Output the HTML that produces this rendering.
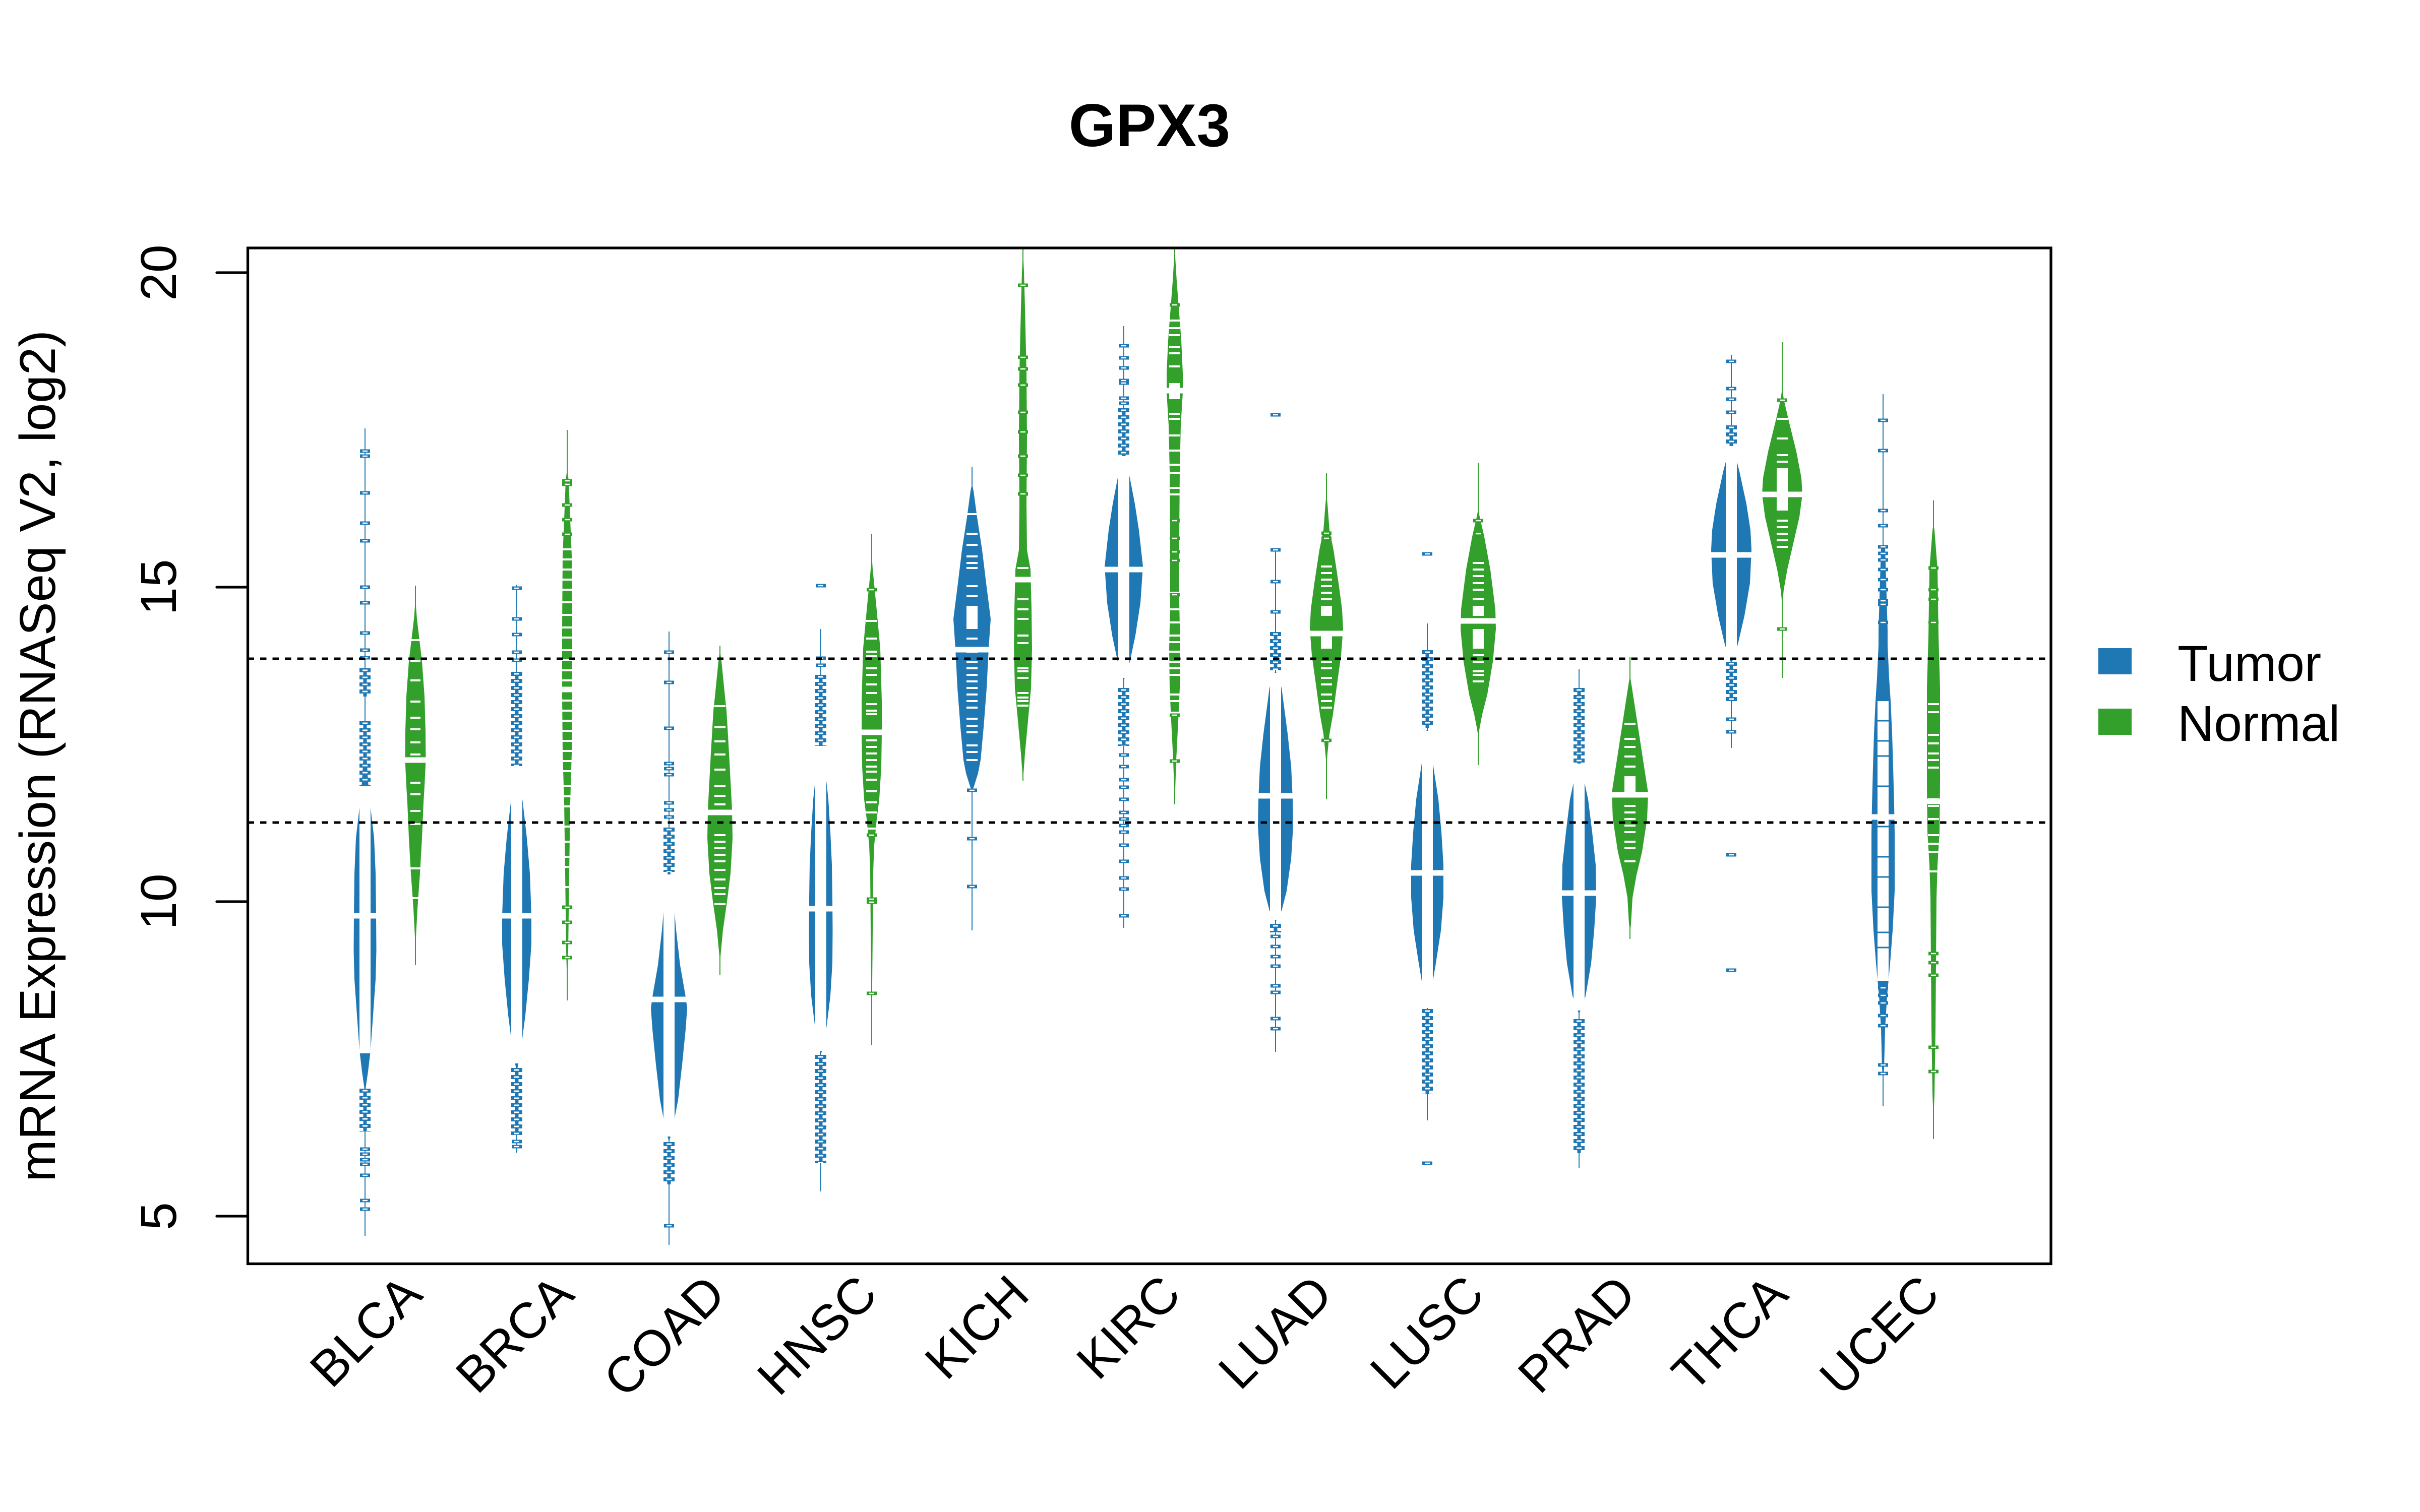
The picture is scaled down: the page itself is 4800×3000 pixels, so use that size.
<!DOCTYPE html>
<html><head><meta charset="utf-8"><style>
html,body{margin:0;padding:0;background:#fff;}
svg{display:block;}
text{font-family:"Liberation Sans",Arial,sans-serif;fill:#000;}
.fb{fill:#1F78B4}.fg{fill:#33A02C}
.sb{stroke:#1F78B4;stroke-width:2;fill:none}.sg{stroke:#33A02C;stroke-width:2;fill:none}
.ob{stroke:#1F78B4;stroke-width:7;fill:none}.og{stroke:#33A02C;stroke-width:7;fill:none}
.oi{stroke:#fff;stroke-width:2.5;fill:none}
.wl{stroke:#fff;stroke-width:4;fill:none}
.bl{stroke:#1F78B4;stroke-width:3;fill:none}
.md{stroke:#fff;stroke-width:11;fill:none}
.wf{fill:#fff}
.fs{stroke:#1F78B4;stroke-width:7;fill:none}
.fm{stroke:#1F78B4;stroke-width:22;stroke-dasharray:8 6;fill:none}
.fw{stroke:#fff;stroke-width:10;stroke-dasharray:3 11;stroke-dashoffset:-2.5;fill:none}
</style></head><body>
<svg width="4800" height="3000" viewBox="0 0 4800 3000" xmlns="http://www.w3.org/2000/svg">
<rect width="4800" height="3000" fill="#fff"/>
<defs><clipPath id="pc"><rect x="491.5" y="492" width="3576.5" height="2015.5"/></clipPath></defs>

<text x="2280" y="290" font-size="120" font-weight="bold" text-anchor="middle">GPX3</text>

<g clip-path="url(#pc)">
<!-- 1 BLCA T -->
<g transform="translate(724 0)">
<path class="sb" d="M0 850V2452"/>
<path id="a1" class="fb" d="M0 1466L3 1500L6 1550L10 1593L18 1663L21 1733L22 1817L22.5 1887L21 1943L16 2014L11 2084L6 2126L2 2154L0 2170Z"/><use href="#a1" transform="scale(-1 1)"/>
<path class="fs" d="M0 1326V1382M0 1431V1560M0 2160V2245"/>
<path class="fm" d="M0 1326V1382M0 1431V1560M0 2160V2245"/>
<path class="fw" d="M0 1326V1382M0 1431V1560M0 2160V2245"/>
<rect class="wf" x="-11" y="1560" width="22" height="530"/>
<path class="ob" d="M-10 895h20M-10 905h20M-10 978h20M-10 1038h20M-10 1073h20M-10 1165h20M-10 1196h20M-10 1256h20M-10 1290h20M-10 1305h20M-10 2280h20M-10 2290h20M-10 2301h20M-10 2310h20M-10 2332h20M-10 2382h20M-10 2399h20"/>
<path class="oi" d="M-5 895h10M-5 905h10M-5 978h10M-5 1038h10M-5 1073h10M-5 1165h10M-5 1196h10M-5 1256h10M-5 1290h10M-5 1305h10M-5 2280h10M-5 2290h10M-5 2301h10M-5 2310h10M-5 2332h10M-5 2382h10M-5 2399h10"/>
<path class="md" d="M-23 1817h46"/>
</g>
<!-- 2 BLCA N -->
<g transform="translate(824 0)">
<path class="sg" d="M0 1162V1915"/>
<path id="a2" class="fg" d="M0 1190L3 1228L8 1270L13 1312L18 1382L20 1450L20.5 1508L18 1560L16 1593L13 1663L9 1733L4 1803L1 1859L0 1880Z"/><use href="#a2" transform="scale(-1 1)"/>
<path class="wl" d="M-10 1270h20M-10 1312h20M-10 1350h20M-10 1392h20M-10 1424h20M-10 1447h20M-10 1473h20M-10 1497h20M-10 1553h20M-10 1576h20M-10 1609h20M-10 1635h20M-10 1723h20M-10 1782h20"/>
<path class="md" d="M-21 1508h42"/>
</g>
<!-- 3 BRCA T -->
<g transform="translate(1025 0)">
<path class="sb" d="M0 1160V2287"/>
<path id="a3" class="fb" d="M0 1500L3 1522L12 1593L20 1663L26 1733L29 1817L29 1873L24 1943L17 2014L8 2084L3 2112L0 2125Z"/><use href="#a3" transform="scale(-1 1)"/>
<path class="fs" d="M0 1333V1520M0 2119V2252"/>
<path class="fm" d="M0 1333V1520M0 2119V2252"/>
<path class="fw" d="M0 1333V1520M0 2119V2252"/>
<rect class="wf" x="-11" y="1520" width="22" height="590"/>
<path class="ob" d="M-10 1167h20M-10 1228h20M-10 1259h20M-10 1294h20M-10 1310h20M-10 2265h20M-10 2275h20"/>
<path class="oi" d="M-5 1167h10M-5 1228h10M-5 1259h10M-5 1294h10M-5 1310h10M-5 2265h10M-5 2275h10"/>
<path class="md" d="M-29 1817h58"/>
</g>
<!-- 4 BRCA N -->
<g transform="translate(1125 0)">
<path class="sg" d="M0 853V1985"/>
<path id="a4" class="fg" d="M0 930L3 954L6 1031L9 1102L10 1242L10 1382L9 1494L6 1593L4 1733L2 1887L0 1960Z"/><use href="#a4" transform="scale(-1 1)"/>
<path class="og" d="M-10 954h20M-10 961h20M-10 1002h20M-10 1031h20M-10 1060h20M-10 1800h20M-10 1830h20M-10 1870h20M-10 1900h20"/>
<path class="oi" d="M-5 954h10M-5 961h10M-5 1002h10M-5 1031h10M-5 1060h10M-5 1800h10M-5 1830h10M-5 1870h10M-5 1900h10"/>
<path class="wl" d="M-10 1090h20M-10 1110h20M-10 1130h20M-10 1150h20M-10 1170h20M-10 1195h20M-10 1220h20M-10 1245h20M-10 1265h20M-10 1290h20M-10 1310h20M-10 1330h20M-10 1350h20M-10 1390h20M-10 1410h20M-10 1430h20M-10 1450h20M-10 1470h20M-10 1490h20M-10 1510h20M-10 1530h20M-10 1560h20M-10 1580h20M-10 1600h20M-10 1640h20M-10 1670h20M-10 1700h20M-10 1720h20M-10 1760h20"/>
<path class="md" d="M-12 1368h24"/>
</g>
<!-- 5 COAD T -->
<g transform="translate(1327 0)">
<path class="sb" d="M0 1253V2470"/>
<path id="a5" class="fb" d="M0 1720L3 1733L8 1775L14 1845L22 1915L32 1972L36 2000L33 2042L26 2112L18 2182L10 2224L4 2252L0 2265Z"/><use href="#a5" transform="scale(-1 1)"/>
<path class="fs" d="M0 1642V1730M0 2266V2350"/>
<path class="fm" d="M0 1642V1730M0 2266V2350"/>
<path class="fw" d="M0 1642V1730M0 2266V2350"/>
<rect class="wf" x="-11" y="1735" width="22" height="520"/>
<path class="ob" d="M-10 1294h20M-10 1354h20M-10 1445h20M-10 1515h20M-10 1525h20M-10 1537h20M-10 1593h20M-10 1607h20M-10 1621h20M-10 2432h20"/>
<path class="oi" d="M-5 1294h10M-5 1354h10M-5 1445h10M-5 1515h10M-5 1525h10M-5 1537h10M-5 1593h10M-5 1607h10M-5 1621h10M-5 2432h10"/>
<path class="md" d="M-36 1983h72"/>
</g>
<!-- 6 COAD N -->
<g transform="translate(1428 0)">
<path class="sg" d="M0 1281V1934"/>
<path id="a6" class="fg" d="M0 1290L3 1312L10 1382L13 1410L18 1494L24 1607L25 1663L21 1733L14 1789L6 1845L2 1887L0 1910Z"/><use href="#a6" transform="scale(-1 1)"/>
<path class="wl" d="M-11 1401h22M-11 1443h22M-11 1471h22M-11 1497h22M-11 1527h22M-11 1560h22M-11 1579h22M-11 1596h22M-11 1657h22M-11 1670h22M-11 1683h22M-11 1696h22M-11 1709h22M-11 1726h22M-11 1745h22M-11 1762h22M-11 1774h22M-11 1794h22"/>
<path class="md" d="M-25 1612h50"/>
</g>
<!-- 7 HNSC T -->
<g transform="translate(1628 0)">
<path class="sb" d="M0 1248V2364"/>
<path id="a7" class="fb" d="M0 1475L2 1488L8 1521L15 1586L19 1651L22 1716L23 1781L23.5 1846L23 1911L19 1976L11 2041L4 2080L0 2092Z"/><use href="#a7" transform="scale(-1 1)"/>
<path class="fs" d="M0 1339V1480M0 2093V2308"/>
<path class="fm" d="M0 1339V1480M0 2093V2308"/>
<path class="fw" d="M0 1339V1480M0 2093V2308"/>
<rect class="wf" x="-11" y="1480" width="22" height="605"/>
<path class="ob" d="M-10 1162h20M-10 1306h20M-10 1320h20"/>
<path class="oi" d="M-5 1162h10M-5 1306h10M-5 1320h10"/>
<path class="md" d="M-23.5 1803h47"/>
</g>
<!-- 8 HNSC N -->
<g transform="translate(1729 0)">
<path class="sg" d="M0 1059V2074"/>
<path id="a8" class="fg" d="M0 1100L2 1130L6 1170L11 1222L17 1287L20 1391L20 1456L19 1521L15 1586L10 1625L5 1677L3 1729L2 1846L1 1950L0 2000Z"/><use href="#a8" transform="scale(-1 1)"/>
<path class="wl" d="M-11 1232h22M-11 1267h22M-11 1293h22M-11 1302h22M-11 1326h22M-11 1339h22M-11 1358h22M-11 1375h22M-11 1397h22M-11 1410h22M-11 1417h22M-11 1469h22M-11 1482h22M-11 1495h22M-11 1508h22M-11 1521h22M-11 1531h22M-11 1547h22M-11 1570h22M-11 1592h22M-11 1612h22M-11 1644h22"/>
<path class="og" d="M-10 1170h20M-10 1657h20M-10 1784h20M-10 1790h20M-10 1971h20"/>
<path class="oi" d="M-5 1170h10M-5 1657h10M-5 1784h10M-5 1790h10M-5 1971h10"/>
<path class="md" d="M-20 1453h40"/>
</g>
<!-- 9 KICH T -->
<g transform="translate(1928 0)">
<path class="sb" d="M0 926V1846"/>
<path id="a9" class="fb" d="M0 960L3 974L10 1026L20 1091L28 1157L37 1228L33 1287L29 1365L23 1443L17 1508L12 1534L4 1560L0 1570Z"/><use href="#a9" transform="scale(-1 1)"/>
<path class="wl" d="M-11 1020h22M-11 1059h22M-11 1081h22M-11 1104h22M-11 1117h22M-11 1127h22M-11 1163h22M-11 1183h22M-11 1267h22M-11 1293h22M-11 1313h22M-11 1326h22M-11 1339h22M-11 1352h22M-11 1365h22M-11 1378h22M-11 1391h22M-11 1404h22M-11 1426h22M-11 1440h22M-11 1453h22M-11 1479h22M-11 1492h22M-11 1508h22"/>
<rect class="wf" x="-11" y="1202" width="22" height="46"/>
<path class="ob" d="M-10 1568h20M-10 1664h20M-10 1759h20"/>
<path class="oi" d="M-5 1568h10M-5 1664h10M-5 1759h10"/>
<path class="md" d="M-33 1289h66"/>
</g>
<!-- 10 KICH N -->
<g transform="translate(2029 0)">
<path class="sg" d="M0 493V1549"/>
<path id="a10" class="fg" d="M0 495L2 540L4 610L7 740L8 870L7 1000L8 1091L15 1130L17 1209L18 1287L16 1365L10 1430L4 1495L0 1549Z"/><use href="#a10" transform="scale(-1 1)"/>
<path class="og" d="M-10 566h20M-10 709h20M-10 732h20M-10 764h20M-10 818h20M-10 857h20M-10 905h20M-10 943h20M-10 980h20"/>
<path class="oi" d="M-5 566h10M-5 709h10M-5 732h10M-5 764h10M-5 818h10M-5 857h10M-5 905h10M-5 943h10M-5 980h10"/>
<path class="wl" d="M-11 1127h22M-11 1189h22M-11 1209h22M-11 1228h22M-11 1261h22M-11 1276h22M-11 1326h22M-11 1332h22M-11 1345h22M-11 1375h22M-11 1384h22M-11 1391h22M-11 1400h22"/>
<path class="md" d="M-17 1150h34"/>
</g>
<!-- 11 KIRC T -->
<g transform="translate(2229 0)">
<path class="sb" d="M0 647V1841"/>
<path id="a11" class="fb" d="M0 895L3 909L12 948L22 1000L30 1052L38 1124L33 1196L23 1261L12 1313L4 1339L0 1350Z"/><use href="#a11" transform="scale(-1 1)"/>
<path class="fs" d="M0 810V909M0 1365V1480"/>
<path class="fm" d="M0 810V909M0 1365V1480"/>
<path class="fw" d="M0 810V909M0 1365V1480"/>
<rect class="wf" x="-11" y="905" width="22" height="440"/>
<path class="ob" d="M-10 686h20M-10 710h20M-10 730h20M-10 755h20M-10 760h20M-10 790h20M-10 800h20M-10 1498h20M-10 1521h20M-10 1547h20M-10 1562h20M-10 1586h20M-10 1612h20M-10 1625h20M-10 1638h20M-10 1651h20M-10 1677h20M-10 1709h20M-10 1742h20M-10 1764h20M-10 1817h20"/>
<path class="oi" d="M-5 686h10M-5 710h10M-5 730h10M-5 755h10M-5 760h10M-5 790h10M-5 800h10M-5 1498h10M-5 1521h10M-5 1547h10M-5 1562h10M-5 1586h10M-5 1612h10M-5 1625h10M-5 1638h10M-5 1651h10M-5 1677h10M-5 1709h10M-5 1742h10M-5 1764h10M-5 1817h10"/>
<path class="md" d="M-38 1130h76"/>
</g>
<!-- 12 KIRC N -->
<g transform="translate(2330 0)">
<path class="sg" d="M0 494V1596"/>
<path id="a12" class="fg" d="M0 494L4 558L8 610L13 675L16 740L16 779L12 844L10 935L9 1065L9 1196L11 1287L10 1365L7 1430L3 1508L0 1596Z"/><use href="#a12" transform="scale(-1 1)"/>
<path class="wl" d="M-11 636h22M-11 651h22M-11 665h22M-11 688h22M-11 701h22M-11 727h22M-11 821h22M-11 831h22M-11 864h22M-11 894h22M-11 922h22M-11 938h22M-11 968h22M-11 981h22M-11 1176h22M-11 1209h22M-11 1235h22M-11 1261h22M-11 1274h22M-11 1293h22M-11 1313h22M-11 1326h22M-11 1339h22M-11 1378h22M-11 1391h22M-11 1414h22"/>
<rect class="wf" x="-11" y="760" width="22" height="32"/>
<path class="og" d="M-10 605h20M-10 1033h20M-10 1068h20M-10 1095h20M-10 1112h20M-10 1180h20M-10 1419h20M-10 1510h20"/>
<path class="oi" d="M-5 605h10M-5 1033h10M-5 1068h10M-5 1095h10M-5 1112h10M-5 1180h10M-5 1419h10M-5 1510h10"/>
<path class="md" d="M-16 775h32"/>
</g>
<!-- 13 LUAD T -->
<g transform="translate(2530 0)">
<path class="sb" d="M0 1091V2087"/>
<path id="a13" class="fb" d="M0 1330L3 1339L12 1365L24 1456L31 1521L34 1586L35 1638L31 1703L22 1768L12 1807L4 1820L0 1830Z"/><use href="#a13" transform="scale(-1 1)"/>
<path class="fs" d="M0 1254V1330M0 1833V1850"/>
<path class="fm" d="M0 1254V1330M0 1833V1850"/>
<path class="fw" d="M0 1254V1330M0 1833V1850"/>
<rect class="wf" x="-11" y="1335" width="22" height="490"/>
<path class="ob" d="M-10 823h20M-10 1091h20M-10 1154h20M-10 1214h20M-10 1858h20M-10 1878h20M-10 1898h20M-10 1917h20M-10 1956h20M-10 1969h20M-10 2021h20M-10 2041h20"/>
<path class="oi" d="M-5 823h10M-5 1091h10M-5 1154h10M-5 1214h10M-5 1858h10M-5 1878h10M-5 1898h10M-5 1917h10M-5 1956h10M-5 1969h10M-5 2021h10M-5 2041h10"/>
<path class="md" d="M-35 1579h70"/>
</g>
<!-- 14 LUAD N -->
<g transform="translate(2631 0)">
<path class="sg" d="M0 939V1586"/>
<path id="a14" class="fg" d="M0 980L2 1000L6 1052L14 1091L24 1157L31 1209L33 1248L29 1300L20 1365L13 1417L6 1456L2 1495L0 1520Z"/><use href="#a14" transform="scale(-1 1)"/>
<path class="wl" d="M-11 1124h22M-11 1137h22M-11 1150h22M-11 1163h22M-11 1176h22M-11 1189h22M-11 1313h22M-11 1326h22M-11 1345h22M-11 1358h22M-11 1378h22M-11 1391h22M-11 1404h22"/>
<rect class="wf" x="-11" y="1202" width="22" height="20"/>
<rect class="wf" x="-11" y="1261" width="22" height="26"/>
<path class="og" d="M-10 1058h20M-10 1068h20M-10 1469h20"/>
<path class="oi" d="M-5 1058h10M-5 1068h10M-5 1469h10"/>
<path class="md" d="M-33 1257h66"/>
</g>
<!-- 15 LUSC T -->
<g transform="translate(2831 0)">
<path class="sb" d="M0 1237V2223"/>
<path id="a15" class="fb" d="M0 1445L4 1456L10 1508L22 1586L28 1651L32 1716L32 1781L27 1846L17 1911L6 1976L2 1996L0 2005Z"/><use href="#a15" transform="scale(-1 1)"/>
<path class="fs" d="M0 1290V1445M0 2002V2171"/>
<path class="fm" d="M0 1290V1445M0 2002V2171"/>
<path class="fw" d="M0 1290V1445M0 2002V2171"/>
<rect class="wf" x="-11" y="1450" width="22" height="550"/>
<path class="ob" d="M-10 1099h20M-10 2308h20"/>
<path class="oi" d="M-5 1099h10M-5 2308h10"/>
<path class="md" d="M-32 1732h64"/>
</g>
<!-- 16 LUSC N -->
<g transform="translate(2932 0)">
<path class="sg" d="M0 918V1518"/>
<path id="a16" class="fg" d="M0 1010L3 1026L12 1065L24 1130L34 1209L35 1248L29 1313L18 1378L8 1417L3 1443L0 1460Z"/><use href="#a16" transform="scale(-1 1)"/>
<path class="wl" d="M-11 1117h22M-11 1130h22M-11 1143h22M-11 1157h22M-11 1170h22M-11 1189h22M-11 1300h22M-11 1313h22M-11 1332h22M-11 1339h22M-11 1352h22"/>
<rect class="wf" x="-11" y="1202" width="22" height="20"/>
<rect class="wf" x="-11" y="1248" width="22" height="39"/>
<path class="og" d="M-10 1033h20M-10 1059h20"/>
<path class="oi" d="M-5 1033h10M-5 1059h10"/>
<path class="md" d="M-35 1232h70"/>
</g>
<!-- 17 PRAD T -->
<g transform="translate(3132 0)">
<path class="sb" d="M0 1328V2317"/>
<path id="a17" class="fb" d="M0 1510L4 1521L18 1586L26 1651L33 1716L34 1781L30 1846L24 1911L13 1976L4 2002L0 2012Z"/><use href="#a17" transform="scale(-1 1)"/>
<path class="fs" d="M0 1365V1515M0 2022V2288"/>
<path class="fm" d="M0 1365V1515M0 2022V2288"/>
<path class="fw" d="M0 1365V1515M0 2022V2288"/>
<rect class="wf" x="-11" y="1515" width="22" height="490"/>
<path class="md" d="M-34 1772h68"/>
</g>
<!-- 18 PRAD N -->
<g transform="translate(3233 0)">
<path class="sg" d="M0 1304V1863"/>
<path id="a18" class="fg" d="M0 1340L4 1365L12 1417L24 1495L36 1573L34 1625L24 1690L13 1736L5 1781L2 1833L0 1850Z"/><use href="#a18" transform="scale(-1 1)"/>
<path class="wl" d="M-11 1436h22M-11 1466h22M-11 1482h22M-11 1501h22M-11 1521h22M-11 1599h22M-11 1612h22M-11 1625h22M-11 1638h22M-11 1651h22M-11 1670h22M-11 1683h22M-11 1709h22"/>
<rect class="wf" x="-11" y="1540" width="22" height="39"/>
<path class="md" d="M-36 1577h72"/>
</g>
<!-- 19 THCA T -->
<g transform="translate(3434 0)">
<path class="sb" d="M0 704V1484"/>
<path id="a19" class="fb" d="M0 880L4 890L16 935L30 1000L38 1052L40 1091L37 1157L26 1222L14 1274L5 1306L0 1315Z"/><use href="#a19" transform="scale(-1 1)"/>
<path class="fs" d="M0 844V890M0 1313V1391"/>
<path class="fm" d="M0 844V890M0 1313V1391"/>
<path class="fw" d="M0 844V890M0 1313V1391"/>
<rect class="wf" x="-11" y="885" width="22" height="425"/>
<path class="ob" d="M-10 717h20M-10 771h20M-10 792h20M-10 818h20M-10 1427h20M-10 1452h20M-10 1696h20M-10 1925h20"/>
<path class="oi" d="M-5 717h10M-5 771h10M-5 792h10M-5 818h10M-5 1427h10M-5 1452h10M-5 1696h10M-5 1925h10"/>
<path class="md" d="M-40 1101h80"/>
</g>
<!-- 20 THCA N -->
<g transform="translate(3535 0)">
<path class="sg" d="M0 679V1345"/>
<path id="a20" class="fg" d="M0 770L3 792L12 831L28 896L38 948L40 981L34 1026L22 1078L10 1130L3 1170L0 1200Z"/><use href="#a20" transform="scale(-1 1)"/>
<path class="wl" d="M-11 831h22M-11 870h22M-11 903h22M-11 916h22M-11 1033h22M-11 1046h22M-11 1059h22M-11 1072h22M-11 1085h22"/>
<rect class="wf" x="-11" y="929" width="22" height="84"/>
<path class="og" d="M-10 794h20M-10 1248h20"/>
<path class="oi" d="M-5 794h10M-5 1248h10"/>
<path class="md" d="M-40 981h80"/>
</g>
<!-- 21 UCEC T -->
<g transform="translate(3735 0)">
<path class="sb" d="M0 782V2195"/>
<path id="a21" class="fb" d="M0 1080L4 1085L6 1150L9 1250L9 1280L12 1345L15 1391L18 1456L20 1521L22 1599L23 1651L23 1768L19 1846L14 1911L8 1976L4 2041L2 2119L0 2150Z"/><use href="#a21" transform="scale(-1 1)"/>
<rect class="wf" x="-11" y="1391" width="22" height="555"/>
<path class="bl" d="M-11 1430h22M-11 1470h22M-11 1500h22M-11 1560h22M-11 1640h22M-11 1700h22M-11 1740h22M-11 1800h22M-11 1850h22M-11 1880h22"/>
<path class="ob" d="M-10 834h20M-10 894h20M-10 1013h20M-10 1043h20M-10 1085h20M-10 1098h20M-10 1111h20M-10 1130h20M-10 1150h20M-10 1170h20M-10 1192h20M-10 1199h20M-10 1235h20M-10 1960h20M-10 1975h20M-10 1990h20M-10 2015h20M-10 2035h20M-10 2113h20M-10 2130h20"/>
<path class="oi" d="M-5 834h10M-5 894h10M-5 1013h10M-5 1043h10M-5 1085h10M-5 1098h10M-5 1111h10M-5 1130h10M-5 1150h10M-5 1170h10M-5 1192h10M-5 1199h10M-5 1235h10M-5 1960h10M-5 1975h10M-5 1990h10M-5 2015h10M-5 2035h10M-5 2113h10M-5 2130h10"/>
<path class="md" d="M-23 1621h46"/>
</g>
<!-- 22 UCEC N -->
<g transform="translate(3835 0)">
<path class="sg" d="M0 993V2260"/>
<path id="a22" class="fg" d="M0 1040L2 1052L8 1130L10 1261L13 1365L13 1456L13 1560L12 1651L8 1716L6 1781L5 1911L4 2041L2 2171L0 2220Z"/><use href="#a22" transform="scale(-1 1)"/>
<path class="wl" d="M-11 1397h22M-11 1413h22M-11 1458h22M-11 1475h22M-11 1495h22M-11 1508h22M-11 1523h22M-11 1586h22M-11 1599h22M-11 1625h22M-11 1657h22M-11 1674h22M-11 1690h22M-11 1729h22"/>
<path class="og" d="M-10 1127h20M-10 1170h20M-10 1189h20M-10 1235h20M-10 1892h20M-10 1910h20M-10 1935h20M-10 2078h20M-10 2126h20"/>
<path class="oi" d="M-5 1127h10M-5 1170h10M-5 1189h10M-5 1235h10M-5 1892h10M-5 1910h10M-5 1935h10M-5 2078h10M-5 2126h10"/>
<path class="md" d="M-13 1590h26"/>
</g>

<!-- dashed reference lines -->
<path d="M491.5 1307H4068M491.5 1632H4068" stroke="#000" stroke-width="5" stroke-dasharray="12.5 12" fill="none"/>
</g>

<!-- plot frame -->
<rect x="491.5" y="492" width="3576.5" height="2015.5" fill="none" stroke="#000" stroke-width="5.3"/>
<!-- y ticks -->
<path d="M430 541H491.5M430 1165H491.5M430 1789H491.5M430 2413H491.5" stroke="#000" stroke-width="5.3" stroke-linecap="round" fill="none"/>
<g font-size="100" text-anchor="middle">
<text transform="translate(349 541) rotate(-90)">20</text>
<text transform="translate(349 1165) rotate(-90)">15</text>
<text transform="translate(349 1789) rotate(-90)">10</text>
<text transform="translate(349 2413) rotate(-90)">5</text>
<text transform="translate(109 1500) rotate(-90)">mRNA Expression (RNASeq V2, log2)</text>
</g>

<!-- x labels -->
<g font-size="100" text-anchor="end">
<text transform="translate(842 2573) rotate(-45)">BLCA</text>
<text transform="translate(1143 2573) rotate(-45)">BRCA</text>
<text transform="translate(1444 2573) rotate(-45)">COAD</text>
<text transform="translate(1745 2573) rotate(-45)">HNSC</text>
<text transform="translate(2046 2573) rotate(-45)">KICH</text>
<text transform="translate(2347 2573) rotate(-45)">KIRC</text>
<text transform="translate(2648 2573) rotate(-45)">LUAD</text>
<text transform="translate(2949 2573) rotate(-45)">LUSC</text>
<text transform="translate(3250 2573) rotate(-45)">PRAD</text>
<text transform="translate(3551 2573) rotate(-45)">THCA</text>
<text transform="translate(3852 2573) rotate(-45)">UCEC</text>
</g>

<!-- legend -->
<rect x="4162" y="1286" width="66" height="52" fill="#1F78B4"/>
<rect x="4162" y="1406" width="66" height="52" fill="#33A02C"/>
<g font-size="100">
<text x="4319" y="1351">Tumor</text>
<text x="4319" y="1470">Normal</text>
</g>
</svg>
</body></html>
